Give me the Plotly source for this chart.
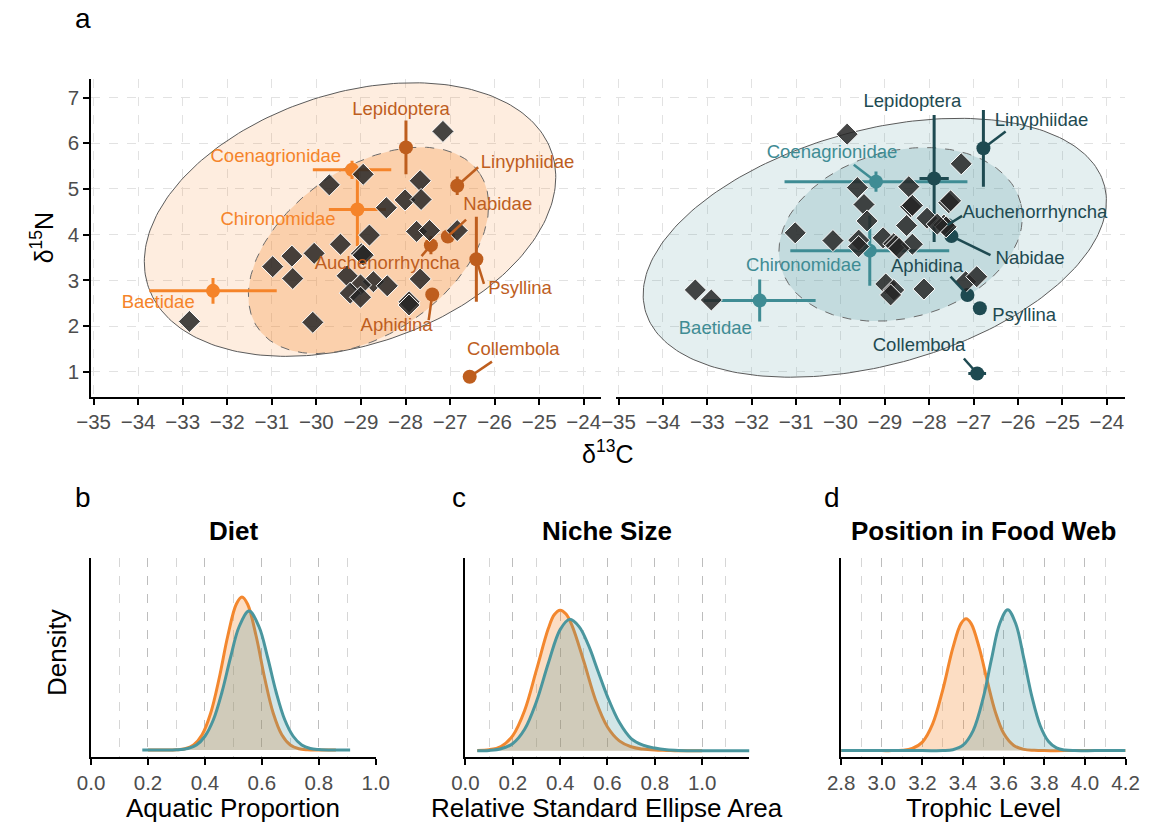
import numpy as np
import plotly.graph_objects as go

W, H = 1161, 825
FONT = "Liberation Sans, Arial, sans-serif"

# ---------------- panel a: consumer isotope values (δ13C, δ15N) ----------------
orange_cons_c = [-27.16, -29.71, -28.95, -27.67, -28.01, -27.65, -28.43, -28.81, -27.75, -27.46,
                 -26.84, -29.46, -28.99, -28.95, -30.05, -30.55, -30.98, -30.53, -29.31, -28.72,
                 -28.41, -29.01, -29.24, -29.01, -27.67, -27.92, -27.92, -32.85, -30.08]
orange_cons_n = [6.26, 5.09, 5.32, 5.18, 4.76, 4.77, 4.59, 3.99, 4.07, 4.09,
                 4.09, 3.79, 3.58, 3.55, 3.59, 3.53, 3.30, 3.04, 3.10, 2.97,
                 2.88, 2.90, 2.72, 2.63, 3.03, 2.53, 2.46, 2.10, 2.08]

teal_cons_c = [-29.85, -27.28, -29.62, -28.46, -29.47, -28.42, -28.38, -27.56, -27.52, -28.05,
               -29.40, -28.51, -27.67, -27.62, -27.82, -31.02, -30.17, -29.59, -29.59, -29.04,
               -28.80, -28.75, -28.38, -28.68, -28.98, -28.80, -28.87, -28.12, -27.18, -26.93,
               -33.27, -32.91]
teal_cons_n = [6.20, 5.55, 5.03, 5.05, 4.66, 4.61, 4.64, 4.70, 4.74, 4.36,
               4.30, 4.20, 4.21, 4.17, 4.23, 4.04, 3.87, 3.88, 3.74, 3.93,
               3.80, 3.76, 3.79, 3.70, 2.92, 2.79, 2.68, 2.81, 2.97, 3.08,
               2.79, 2.57]

# ---------------- prey sources: means, spreads and label placement ----------------
source_names = ["Lepidoptera", "Coenagrionidae", "Chironomidae", "Baetidae", "Linyphiidae",
                "Nabidae", "Auchenorrhyncha", "Psyllina", "Aphidina", "Collembola"]
source_aquatic = [False, True, True, True, False, False, False, False, False, False]

o_src_c = [-27.99, -29.20, -29.08, -32.32, -26.84, -27.05, -27.43, -26.41, -27.40, -26.56]
o_src_n = [5.91, 5.42, 4.55, 2.77, 5.07, 3.96, 3.77, 3.46, 2.69, 0.89]
o_src_sdc = [0.05, 0.88, 0.64, 1.43, 0.08, 0.08, 0.08, 0.05, 0.05, 0.05]
o_src_sdn = [0.59, 0.20, 0.80, 0.28, 0.20, 0.10, 0.20, 0.93, 0.12, 0.05]
o_lab_c = [-28.10, -30.91, -30.86, -33.55, -25.26, -25.93, -28.41, -25.43, -28.20, -25.58]
o_lab_n = [6.72, 5.69, 4.31, 2.50, 5.56, 4.65, 3.34, 2.80, 1.99, 1.47]
o_seg_c = [None, None, None, None, -26.37, -26.64, -27.64, -26.24, -27.48, -26.06]
o_seg_n = [None, None, None, None, 5.475, 4.33, 3.53, 2.92, 2.13, 1.22]

t_src_c = [-27.89, -29.20, -29.34, -31.82, -26.78, -27.50, -27.59, -26.86, -27.14, -26.92]
t_src_n = [5.23, 5.16, 3.65, 2.56, 5.89, 3.97, 4.21, 2.39, 2.68, 0.96]
t_src_sdc = [0.33, 2.06, 1.79, 1.26, 0.05, 0.08, 0.08, 0.05, 0.08, 0.20]
t_src_sdn = [1.39, 0.22, 0.77, 0.46, 0.84, 0.08, 0.08, 0.05, 0.10, 0.05]
t_lab_c = [-28.38, -30.19, -30.83, -32.82, -25.47, -25.73, -25.62, -25.86, -28.05, -28.23]
t_lab_n = [6.89, 5.77, 3.30, 1.93, 6.49, 3.46, 4.47, 2.22, 3.28, 1.55]
t_seg_c = [None, -29.70, None, None, -26.28, -26.62, -27.26, None, -27.52, -27.22]
t_seg_n = [None, 5.53, None, None, 6.26, 3.55, 4.41, None, 3.08, 1.29]

# standard ellipses: centre x, centre y, semi-major, semi-minor, rotation (deg)
o_ellipse_outer = (-29.245, 4.33, 4.76, 2.76, 17.4)
o_ellipse_inner = (-28.83, 3.656, 3.01, 1.82, 33.9)
t_ellipse_outer = (-29.227, 3.713, 5.35, 2.575, 14.6)
t_ellipse_inner = (-28.645, 4.006, 2.79, 1.83, 14.1)

# ---------------- panels b-d: posterior densities ----------------
diet_x_orange = [0.20, 0.26, 0.30, 0.33, 0.36, 0.39, 0.42, 0.45, 0.48, 0.51, 0.53,
                 0.55, 0.58, 0.61, 0.64, 0.67, 0.70, 0.73, 0.76, 0.80, 0.86]
diet_y_orange = [0.00, 0.00, 0.01, 0.05, 0.20, 0.61, 1.47, 2.87, 4.55, 5.83, 6.12,
                 5.83, 4.55, 2.87, 1.47, 0.61, 0.20, 0.05, 0.01, 0.00, 0.00]
diet_x_teal = [0.18, 0.25, 0.30, 0.34, 0.37, 0.40, 0.43, 0.46, 0.49, 0.52, 0.555,
               0.59, 0.62, 0.65, 0.68, 0.71, 0.74, 0.77, 0.80, 0.85, 0.91]
diet_y_teal = [0.00, 0.00, 0.01, 0.06, 0.20, 0.55, 1.22, 2.32, 3.71, 4.93, 5.56,
               4.93, 3.71, 2.32, 1.22, 0.55, 0.20, 0.06, 0.02, 0.00, 0.00]

niche_x_orange = [0.05, 0.10, 0.15, 0.20, 0.25, 0.30, 0.35, 0.375, 0.40, 0.425, 0.45,
                  0.50, 0.55, 0.60, 0.65, 0.70, 0.75, 0.80, 0.85, 0.90, 1.00]
niche_y_orange = [0.01, 0.03, 0.13, 0.46, 1.22, 2.45, 3.70, 4.12, 4.26, 4.14, 3.80,
                  2.71, 1.53, 0.72, 0.30, 0.12, 0.05, 0.02, 0.01, 0.00, 0.00]
niche_x_teal = [0.05, 0.10, 0.15, 0.20, 0.25, 0.30, 0.35, 0.40, 0.44, 0.48, 0.52,
                0.56, 0.60, 0.65, 0.70, 0.75, 0.80, 0.85, 0.90, 1.00, 1.20]
niche_y_teal = [0.00, 0.01, 0.06, 0.22, 0.65, 1.49, 2.65, 3.67, 3.98, 3.76, 3.19,
                2.41, 1.64, 0.86, 0.37, 0.17, 0.08, 0.03, 0.01, 0.00, 0.00]

tl_x_orange = [2.80, 3.00, 3.05, 3.10, 3.15, 3.20, 3.25, 3.30, 3.35, 3.39, 3.415,
               3.44, 3.48, 3.52, 3.56, 3.60, 3.65, 3.70, 3.75, 3.80, 3.90, 4.20]
tl_y_orange = [0.00, 0.00, 0.00, 0.01, 0.07, 0.28, 0.87, 1.99, 3.38, 4.18, 4.34,
               4.18, 3.38, 2.27, 1.25, 0.57, 0.17, 0.04, 0.01, 0.00, 0.00, 0.00]
tl_x_teal = [2.80, 3.20, 3.30, 3.35, 3.40, 3.45, 3.50, 3.54, 3.58, 3.62,
             3.66, 3.70, 3.74, 3.78, 3.82, 3.86, 3.90, 3.95, 4.05, 4.20]
tl_y_teal = [0.00, 0.00, 0.00, 0.03, 0.18, 0.66, 1.75, 3.01, 4.17, 4.64,
             4.17, 3.01, 1.75, 0.82, 0.31, 0.09, 0.02, 0.00, 0.00, 0.00]

# ---------------- colours ----------------
OR_AQ, OR_TR = "#F5842A", "#BE5E1E"
TE_AQ, TE_TR = "#3F8C94", "#1E4A51"
DENS_OR, DENS_TE = "#F3872E", "#4A969E"
TICK_GREY = "#4D4D4D"


def ellipse(cx, cy, a, b, angle_deg, n=241):
    t = np.linspace(0, 2 * np.pi, n)
    th = np.deg2rad(angle_deg)
    x = cx + a * np.cos(t) * np.cos(th) - b * np.sin(t) * np.sin(th)
    y = cy + a * np.cos(t) * np.sin(th) + b * np.sin(t) * np.cos(th)
    return x, y


fig = go.Figure()


def isotope_panel(xa, ya, cons_c, cons_n, src_c, src_n, sdc, sdn, lab_c, lab_n,
                  seg_c, seg_n, ell_out, ell_in, rgb, col_aq, col_tr, a_out, a_in):
    ex, ey = ellipse(*ell_out)
    fig.add_trace(go.Scatter(x=ex, y=ey, mode="lines", fill="toself",
                             fillcolor=f"rgba({rgb},{a_out})",
                             line=dict(color="#5A5A5A", width=1),
                             xaxis=xa, yaxis=ya, hoverinfo="skip"))
    ex, ey = ellipse(*ell_in)
    fig.add_trace(go.Scatter(x=ex, y=ey, mode="lines", fill="toself",
                             fillcolor=f"rgba({rgb},{a_in})",
                             line=dict(color="#6A6A6A", width=1, dash="dash"),
                             xaxis=xa, yaxis=ya, hoverinfo="skip"))
    # source means with spread
    for aq, col in ((True, col_aq), (False, col_tr)):
        idx = [i for i, v in enumerate(source_aquatic) if v == aq]
        fig.add_trace(go.Scatter(
            x=[src_c[i] for i in idx], y=[src_n[i] for i in idx], mode="markers",
            marker=dict(symbol="circle", size=14, color=col),
            error_x=dict(type="data", array=[sdc[i] for i in idx], thickness=3, width=0, color=col),
            error_y=dict(type="data", array=[sdn[i] for i in idx], thickness=3, width=0, color=col),
            xaxis=xa, yaxis=ya, hoverinfo="skip"))
    # consumers
    fig.add_trace(go.Scatter(x=cons_c, y=cons_n, mode="markers",
                             marker=dict(symbol="diamond", size=17,
                                         color="rgba(38,38,38,0.85)",
                                         line=dict(color="white", width=1)),
                             xaxis=xa, yaxis=ya, hoverinfo="skip"))
    # leader segments between labels and sources
    for aq, col in ((True, col_aq), (False, col_tr)):
        sx, sy = [], []
        for i in range(len(source_names)):
            if source_aquatic[i] == aq and seg_c[i] is not None:
                sx += [seg_c[i], src_c[i], None]
                sy += [seg_n[i], src_n[i], None]
        if sx:
            fig.add_trace(go.Scatter(x=sx, y=sy, mode="lines",
                                     line=dict(color=col, width=2.5),
                                     xaxis=xa, yaxis=ya, hoverinfo="skip"))
    fig.add_trace(go.Scatter(
        x=lab_c, y=lab_n, mode="text", text=source_names,
        textposition="middle center",
        textfont=dict(family=FONT, size=18.5,
                      color=[col_aq if a else col_tr for a in source_aquatic]),
        cliponaxis=False, xaxis=xa, yaxis=ya, hoverinfo="skip"))


isotope_panel("x", "y", orange_cons_c, orange_cons_n, o_src_c, o_src_n, o_src_sdc, o_src_sdn,
              o_lab_c, o_lab_n, o_seg_c, o_seg_n, o_ellipse_outer, o_ellipse_inner,
              "245,132,38", OR_AQ, OR_TR, 0.15, 0.28)
isotope_panel("x2", "y2", teal_cons_c, teal_cons_n, t_src_c, t_src_n, t_src_sdc, t_src_sdn,
              t_lab_c, t_lab_n, t_seg_c, t_seg_n, t_ellipse_outer, t_ellipse_inner,
              "63,140,148", TE_AQ, TE_TR, 0.14, 0.20)


def density(xa, ya, xo, yo, xt, yt):
    fig.add_trace(go.Scatter(x=xo, y=yo, mode="lines", line=dict(color=DENS_OR, width=3, shape="spline"),
                             fill="tozeroy", fillcolor="rgba(245,132,38,0.28)",
                             xaxis=xa, yaxis=ya, hoverinfo="skip"))
    fig.add_trace(go.Scatter(x=xt, y=yt, mode="lines", line=dict(color=DENS_TE, width=3, shape="spline"),
                             fill="tozeroy", fillcolor="rgba(74,150,158,0.25)",
                             xaxis=xa, yaxis=ya, hoverinfo="skip"))


density("x3", "y3", diet_x_orange, diet_y_orange, diet_x_teal, diet_y_teal)
density("x4", "y4", niche_x_orange, niche_y_orange, niche_x_teal, niche_y_teal)
density("x5", "y5", tl_x_orange, tl_y_orange, tl_x_teal, tl_y_teal)

# ---------------- axes ----------------
def dx(p0, p1):
    return [p0 / W, p1 / W]


def dy(top, bottom):
    return [1 - bottom / H, 1 - top / H]


tick_common = dict(ticks="outside", ticklen=6, tickwidth=1.6, tickcolor="black",
                   tickfont=dict(family=FONT, size=20.5, color=TICK_GREY),
                   showline=True, linecolor="black", linewidth=2, zeroline=False)
grid_top = dict(showgrid=True, gridcolor="#E2E2E2", gridwidth=1, griddash="dash")

c_ticks = list(range(-35, -23))
fig.update_layout(
    xaxis=dict(domain=dx(78.3, 600.7), anchor="y", range=[-35.05, -23.62],
               tickvals=c_ticks, **tick_common, **grid_top),
    yaxis=dict(domain=dy(79.3, 396.7), anchor="x", range=[0.453, 7.40],
               tickvals=list(range(1, 8)), **tick_common, **grid_top),
    xaxis2=dict(domain=dx(616.7, 1138), anchor="y2", range=[-35.05, -23.6],
                tickvals=c_ticks, **tick_common, **grid_top),
    yaxis2=dict(domain=dy(79.3, 396.7), anchor="x2", range=[0.453, 7.40],
                tickvals=list(range(1, 8)), showticklabels=False, ticks="",
                showline=False, zeroline=False, **grid_top),
)

major_grid = dict(showgrid=True, gridcolor="#BDBDBD", gridwidth=1, griddash="dash")
minor_grid = dict(showgrid=True, gridcolor="#D6D6D6", gridwidth=1, griddash="dash", ticks="")
dens_y = dict(showline=True, linecolor="black", linewidth=2, ticks="", showticklabels=False,
              showgrid=False, zeroline=False)

fig.update_layout(
    xaxis3=dict(domain=dx(78, 370), anchor="y3", range=[0, 1],
                tickvals=[0, 0.2, 0.4, 0.6, 0.8, 1.0], tickformat=".1f",
                minor=dict(tickvals=[0.1, 0.3, 0.5, 0.7, 0.9], **minor_grid),
                **tick_common, **major_grid),
    yaxis3=dict(domain=dy(558, 757), anchor="x3", range=[-0.28, 7.68], **dens_y),
    xaxis4=dict(domain=dx(462, 753.3), anchor="y4", range=[0, 1.2],
                tickvals=[0, 0.2, 0.4, 0.6, 0.8, 1.0], tickformat=".1f",
                minor=dict(tickvals=[0.1, 0.3, 0.5, 0.7, 0.9, 1.1, 1.2], **minor_grid),
                **tick_common, **major_grid),
    yaxis4=dict(domain=dy(558, 757), anchor="x4", range=[-0.19, 5.84], **dens_y),
    xaxis5=dict(domain=dx(847.3, 1139), anchor="y5", range=[2.8, 4.2],
                tickvals=[2.8, 3.0, 3.2, 3.4, 3.6, 3.8, 4.0, 4.2], tickformat=".1f",
                minor=dict(tickvals=[2.9, 3.1, 3.3, 3.5, 3.7, 3.9, 4.1], **minor_grid),
                **tick_common, **major_grid),
    yaxis5=dict(domain=dy(558, 757), anchor="x5", range=[-0.21, 6.34], **dens_y),
)

# ---------------- titles and panel letters ----------------
def note(text, x, y, size, bold=False, angle=0, color="black"):
    fig.add_annotation(text=f"<b>{text}</b>" if bold else text,
                       x=x / W, y=1 - y / H, xref="paper", yref="paper",
                       xanchor="center", yanchor="middle", showarrow=False,
                       textangle=angle, font=dict(family=FONT, size=size, color=color))


note("a", 70, 18, 28)
note("b", 70, 497, 28)
note("c", 455, 497, 28)
note("d", 838, 497, 28)
note("δ<sup>13</sup>C", 608, 452, 25)
note("δ<sup>15</sup>N", 28, 238, 25, angle=-90)
note("Diet", 224, 531, 26, bold=True)
note("Niche Size", 607.6, 531, 26, bold=True)
note("Position in Food Web", 993, 531, 26, bold=True)
note("Density", 43, 652, 26, angle=-90)
note("Aquatic Proportion", 224, 808, 26)
note("Relative Standard Ellipse Area", 607.6, 808, 26)
note("Trophic Level", 993, 808, 26)

fig.update_layout(width=W, height=H, margin=dict(l=0, r=0, t=0, b=0),
                  paper_bgcolor="white", plot_bgcolor="white", showlegend=False,
                  font=dict(family=FONT))

fig.write_html("out.html")
